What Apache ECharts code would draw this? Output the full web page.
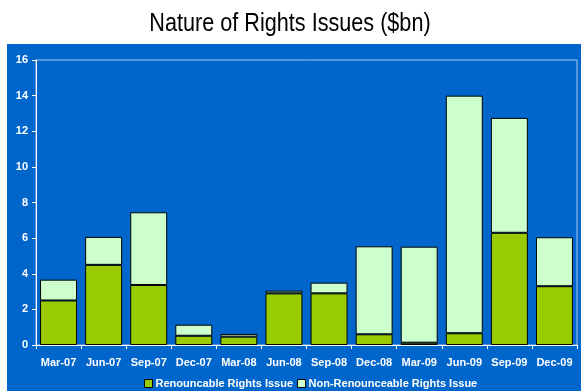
<!DOCTYPE html>
<html>
<head>
<meta charset="utf-8">
<script src="https://cdn.jsdelivr.net/npm/echarts@6/dist/echarts.min.js"></script>
<style>
  html, body { margin: 0; padding: 0; background: #ffffff; }
  #chart { width: 581px; height: 391px; }
</style>
</head>
<body>
<div id="chart"></div>
<script>
// Quarterly rights issues, split by type ($bn)
const quarters = ['Mar-07', 'Jun-07', 'Sep-07', 'Dec-07', 'Mar-08', 'Jun-08',
                  'Sep-08', 'Dec-08', 'Mar-09', 'Jun-09', 'Sep-09', 'Dec-09'];
const renounceable    = [2.5, 4.5, 3.37, 0.52, 0.47, 2.9, 2.9, 0.6, 0.13, 0.66, 6.3, 3.3];
const nonRenounceable = [1.17, 1.57, 4.08, 0.62, 0.15, 0.15, 0.6, 4.94, 5.39, 13.34, 6.45, 2.75];
const yTicks = [0, 2, 4, 6, 8, 10, 12, 14, 16];
const chartTitle = 'Nature of Rights Issues ($bn)';

const chart = echarts.init(document.getElementById('chart'));
const labelFont = { color: '#ffffff', fontWeight: 'bold', fontSize: 11, fontFamily: 'Liberation Sans, Arial, sans-serif' };

chart.setOption({
  animation: false,
  backgroundColor: '#ffffff',
  graphic: [
    {
      type: 'rect', z: -10, silent: true,
      shape: { x: 7, y: 44, width: 574, height: 347 },
      style: { fill: '#0066cc' }
    },
    {
      // condensed title text
      type: 'text', silent: true,
      x: 290, y: 24, scaleX: 0.865,
      style: {
        text: chartTitle, fill: '#000000', align: 'center', verticalAlign: 'middle',
        font: 'normal 25px "Liberation Sans", Arial, sans-serif'
      }
    }
  ],
  grid: {
    left: 36, right: 4, top: 60, bottom: 46,
    show: true, borderColor: '#a8c8ee', borderWidth: 1, backgroundColor: 'transparent'
  },
  legend: {
    bottom: -3, left: 139, itemWidth: 8, itemHeight: 8, itemGap: 4,
    icon: 'rect',
    textStyle: Object.assign({}, labelFont, { padding: [0, 0, 0, -2] }),
    data: [
      { name: 'Renouncable Rights Issue', itemStyle: { color: '#99cc00', borderColor: '#000', borderWidth: 1 } },
      { name: 'Non-Renounceable Rights Issue', itemStyle: { color: '#ccffcc', borderColor: '#000', borderWidth: 1 } }
    ]
  },
  xAxis: {
    type: 'category', data: quarters,
    axisLine: { lineStyle: { color: '#ffffff', width: 1 } },
    axisTick: { show: true, length: 4, inside: false, lineStyle: { color: '#ffffff' } },
    axisLabel: Object.assign({}, labelFont, { margin: 12, interval: 0 })
  },
  yAxis: {
    type: 'value', min: yTicks[0], max: yTicks[yTicks.length - 1], interval: 2,
    axisLine: { show: true, lineStyle: { color: '#ffffff', width: 1 } },
    axisTick: { show: true, length: 4, lineStyle: { color: '#ffffff' } },
    splitLine: { show: false },
    axisLabel: Object.assign({}, labelFont, { margin: 8 })
  },
  series: [
    {
      name: 'Renouncable Rights Issue', type: 'bar', stack: 'total',
      data: renounceable, barCategoryGap: '18%',
      itemStyle: { color: '#99cc00', borderColor: '#000000', borderWidth: 1 }
    },
    {
      name: 'Non-Renounceable Rights Issue', type: 'bar', stack: 'total',
      data: nonRenounceable, barCategoryGap: '18%',
      itemStyle: { color: '#ccffcc', borderColor: '#000000', borderWidth: 1 }
    }
  ]
});
</script>
</body>
</html>
